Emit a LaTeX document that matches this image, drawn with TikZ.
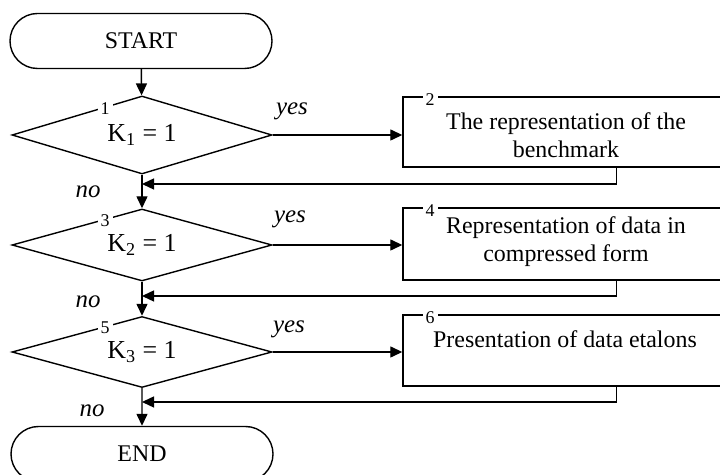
\documentclass[tikz,border=0pt]{standalone}
\usepackage{fontspec}
\setmainfont{Liberation Serif}[ItalicFont={Liberation Serif Italic}]
\usetikzlibrary{
    arrows.meta,
    shapes.geometric,
    shapes.misc,
    calc
}
\tikzset{
    % Blocks
    terminal/.style={rounded rectangle,draw,line width=.7bp,minimum width=131bp,minimum height=27.5bp,inner sep=0pt},
    decision/.style={diamond,draw,line width=.7bp,minimum width=130bp,minimum height=#1,shape aspect=3,inner sep=0pt,font=\fontsize{13}{15}\selectfont},
    decision/.default=36bp,
    process/.style={rectangle,draw,line width=.7bp,minimum width=213.5bp,minimum height=#1,inner sep=0pt},
    process/.default=36bp,
    %
    % Labels
    block number/.style={fill=white,inner xsep=1.5bp,inner ysep=.5bp,anchor=west,font=\fontsize{9}{9}\selectfont},
    answer/.style={font=\fontsize{12.5}{14}\selectfont\itshape},
    block text/.style={align=center,inner sep=0pt},
    %
    % Arrows
    arrow tip/.tip={Triangle[length=6bp,width=5.5bp]},
    arr/.style={->,>={arrow tip},line width=.7bp}
}

\begin{document}
\begin{tikzpicture}[x=.5bp,y=-.5bp,font=\fontsize{12}{14}\selectfont]
    \useasboundingbox (0,0) rectangle (720,475);
    % blocks
    \node[terminal] (start) at (141,41) {START};
    \node[decision=39bp] (d1) at (142,135) {K\textsubscript{1} = 1};
    \node[decision] (d2) at (142,245) {K\textsubscript{2} = 1};
    \node[decision=35.5bp] (d3) at (142,352) {K\textsubscript{3} = 1};
    \node[terminal] (end) at (142,454) {END};
    \node[process=35bp] (b2) at (616.5,132) {};
    \node[process] (b4) at (616.5,244) {};
    \node[process=35.5bp] (b6) at (616.5,350.5) {};
    \node[block text] (t2) at (566,135) {The representation of the\\benchmark};
    \node[block text] (t4) at (566,242) {Representation of data in\\compressed form};
    \node[block text] (t6) at (565,339) {Presentation of data etalons};
    % numbers
    \node[block number] (n1) at ($(d1.west)!.658!(d1.north)$) {1\hspace{5bp}};
    \node[block number] (n3) at ($(d2.west)!.658!(d2.north)$) {3\hspace{5bp}};
    \node[block number] (n5) at ($(d3.west)!.658!(d3.north)$) {5\hspace{5bp}};
    \node[block number,yshift=-1.5bp] (n2) at ([xshift=10bp]b2.north west) {2\hspace{5bp}};
    \node[block number,yshift=-1.5bp] (n4) at ([xshift=10bp]b4.north west) {4\hspace{5bp}};
    \node[block number,yshift=-1.5bp] (n6) at ([xshift=10bp]b6.north west) {6\hspace{5bp}};
    % answers
    \node[answer] (y1) at (292,111) {yes};
    \node[answer] (y2) at (290,219) {yes};
    \node[answer] (y3) at (289,329) {yes};
    \node[answer] (no1) at (88,192) {no};
    \node[answer] (no2) at (88,302) {no};
    \node[answer] (no3) at (92,411) {no};
    % merge points
    \coordinate (m1) at (142,184);
    \coordinate (m2) at (142,296);
    \coordinate (m3) at (142,402);
    % connectors
    \draw[arr] (start) -- (d1);
    \draw[arr] (d1) -- (d2);
    \draw[arr] (d2) -- (d3);
    \draw[arr] (d3) -- (end);
    \draw[arr] (d1.east) -- (d1.east -| b2.west);
    \draw[arr] (d2.east) -- (d2.east -| b4.west);
    \draw[arr] (d3.east) -- (d3.east -| b6.west);
    \draw[arr] (b2.south) |- (m1);
    \draw[arr] (b4.south) |- (m2);
    \draw[arr] (b6.south) |- (m3);
\end{tikzpicture}
\end{document}
